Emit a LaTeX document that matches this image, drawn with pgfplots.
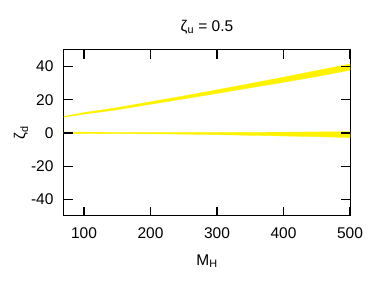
\documentclass[border=0pt]{standalone}
\usepackage{fontspec}
\setmainfont{Liberation Sans}
\usepackage{pgfplots}
\pgfplotsset{compat=1.18}
\definecolor{tickc}{RGB}{0,0,0}
\begin{document}
\begin{tikzpicture}
\begin{axis}[
  scale only axis, width=286pt, height=166pt,
  xmin=70, xmax=500, ymin=-50, ymax=50,
  xtick={100,200,300,400,500}, ytick={-40,-20,0,20,40},
  tick align=inside, major tick length=0pt,
  axis line style={line width=1pt},
  /pgf/number format/assume math mode=true,
  ticklabel style={font=\fontsize{15.5}{18}\selectfont},
  yticklabel style={xshift=-7pt},
  xticklabel style={yshift=-8pt},
  title={ζ\textsubscript{u} = 0.5},
  title style={font=\fontsize{15.5}{18}\selectfont, yshift=6pt},
  xlabel={M\textsubscript{H}},
  xlabel style={font=\fontsize{15.5}{18}\selectfont, yshift=-9pt},
  ylabel={ζ\textsubscript{d}},
  ylabel style={font=\fontsize{15.5}{18}\selectfont, yshift=-4pt},
]
\addplot[fill=yellow, draw=yellow, line width=0.3pt] coordinates {
 (70,10) (100,12.3) (150,15.3) (200,18.8) (250,22.3) (300,26) (350,29.8) (400,33.6) (450,37.6) (500,41.5)
 (500,37.8) (450,34) (400,30.5) (350,27.2) (300,23.8) (250,20.5) (200,17.3) (150,14) (100,11.3) (70,9.5)
} -- cycle;
\addplot[fill=yellow, draw=yellow, line width=0.3pt] coordinates {
 (70,0.6) (150,0.4) (200,0.3) (300,0.3) (400,0.5) (500,0.8)
 (500,-2.8) (450,-2.2) (400,-1.8) (350,-1.4) (300,-1.0) (250,-0.7) (200,-0.5) (150,-0.4) (70,-0.3)
} -- cycle;
\pgfplotsinvokeforeach{100,200,300,400,500}{
  \fill[tickc] (axis cs:#1-0.9,-50) rectangle (axis cs:#1+0.9,-44.6);
  \fill[tickc] (axis cs:#1-0.9,50) rectangle (axis cs:#1+0.9,44.6);
}
\pgfplotsinvokeforeach{-40,-20,0,20,40}{
  \fill[tickc] (axis cs:70,#1-0.36) rectangle (axis cs:83.5,#1+0.36);
  \fill[tickc] (axis cs:500,#1-0.36) rectangle (axis cs:486.5,#1+0.36);
}
\end{axis}
\pgfresetboundingbox
\path (current axis.south west) ++(-64pt,-67pt) rectangle ([xshift=32pt,yshift=50pt]current axis.north east);
\end{tikzpicture}
\end{document}
